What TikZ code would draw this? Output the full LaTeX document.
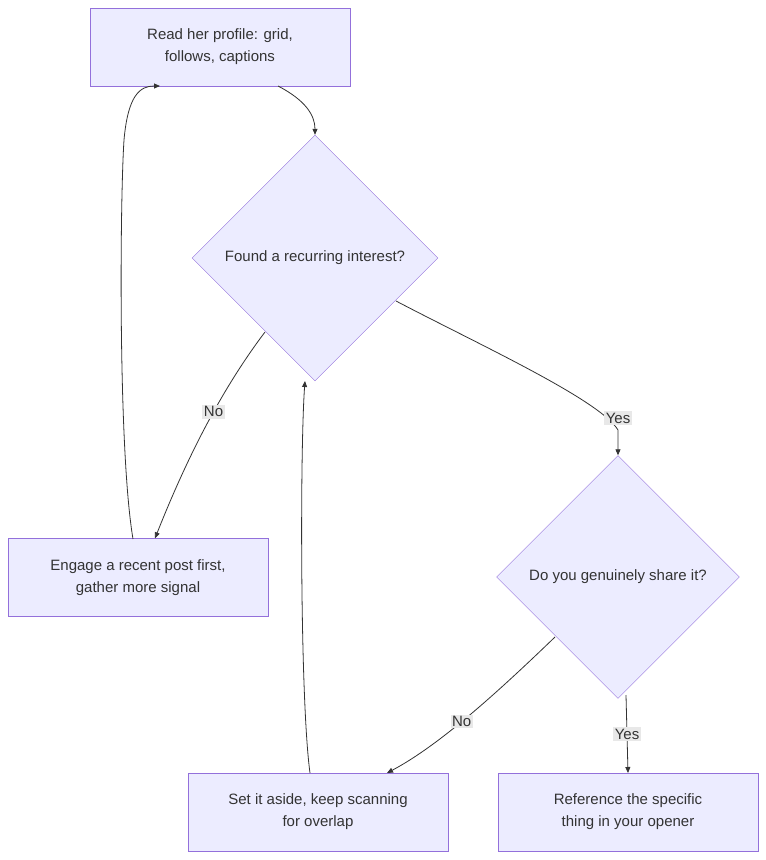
\documentclass[tikz,border=0pt]{standalone}
\usepackage{fontspec}
\setmainfont{Liberation Sans}
\usetikzlibrary{shapes.geometric,arrows.meta}
\definecolor{nfill}{HTML}{ECECFF}
\definecolor{nline}{HTML}{9370DB}
\definecolor{eline}{HTML}{333333}
\definecolor{lbg}{HTML}{E8E8E8}
\begin{document}
\begin{tikzpicture}[x=1pt,y=-1pt,
  font=\fontsize{15}{22}\selectfont,
  box/.style={draw=nline,fill=nfill,minimum width=260pt,minimum height=78pt,align=center,text=eline,inner sep=0pt},
  dia/.style={draw=nline,fill=nfill,diamond,minimum width=246pt,minimum height=246pt,inner sep=0pt,text=eline},
  edge/.style={draw=eline,line width=0.8pt,-{Triangle[length=6pt,width=5pt]}},
  lab/.style={fill=lbg,text=eline,inner sep=1.5pt}]
\useasboundingbox (0,0) rectangle (766,860);
\node[box] (A) at (220,47) {Read her profile: grid,\\follows, captions};
\node[dia] (B) at (315,258) {Found a recurring interest?};
\node[box] (C) at (138,577.5) {Engage a recent post first,\\gather more signal};
\node[dia,minimum width=243pt,minimum height=243pt] (D) at (618,577) {Do you genuinely share it?};
\node[box] (E) at (318,812) {Set it aside, keep scanning\\for overlap};
\node[box] (F) at (628,812) {Reference the specific\\thing in your opener};
\coordinate (a1) at (278,86);
\draw[edge] (a1) .. controls (305,100) and (315,115) .. (B.north);
\draw[edge] (265,332) .. controls (225,385) and (190,450) .. (C.north -| 155,0) node[lab,pos=0.45] {No};
\draw[edge] (133,539) .. controls (118,450) and (120,200) .. (124,140) .. controls (128,95) and (140,86) .. (160,86);
\draw[edge] (396,301) .. controls (480,345) and (600,400) .. (618,430) -- (D.north);
\node[lab] at (618,418) {Yes};
\draw[edge] (555,637) .. controls (500,690) and (440,745) .. (387,773) node[lab,pos=0.55] {No};
\draw[edge] (626,695) -- (628,773) node[lab,midway] {Yes};
\draw[edge] (310,773) .. controls (300,700) and (300,450) .. (305,381);
\end{tikzpicture}
\end{document}
